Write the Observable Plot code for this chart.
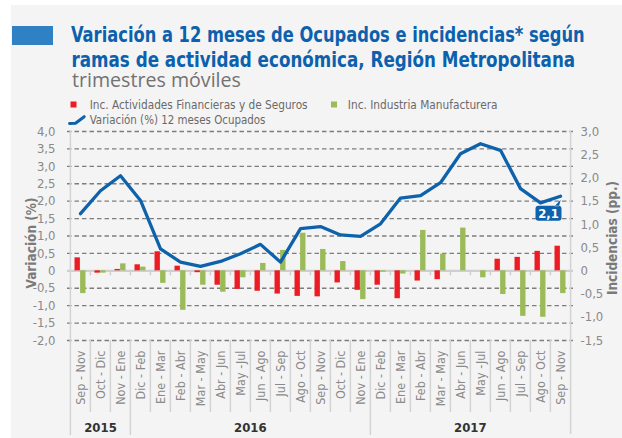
<!DOCTYPE html>
<html lang="es">
<head>
<meta charset="utf-8">
<script src="https://cdn.jsdelivr.net/npm/d3@7"></script>
<script src="https://cdn.jsdelivr.net/npm/@observablehq/plot@0.6"></script>
<style>
html,body{margin:0;padding:0;background:#fff;}
#wrap{position:relative;width:622px;height:438px;overflow:hidden;background:#fff;}
#bg{position:absolute;left:11px;top:5px;right:0;bottom:0;background:#f4f4f4;}
#chart{position:absolute;left:0;top:0;}
#chart svg{overflow:visible;}
#header{position:absolute;left:0;top:0;}
</style>
</head>
<body>
<div id="wrap">
<div id="bg"></div>
<div id="chart"></div>
<svg id="header" width="622" height="130" font-family="'Liberation Sans Narrow','DejaVu Sans Condensed',sans-serif">
  <rect x="12" y="26" width="41" height="19" fill="#3080c4"/>
  <text class="fit" data-x="71" data-y="41.7" data-w="514" font-size="22" font-weight="bold" fill="#0c61ae">Variación a 12 meses de Ocupados e incidencias* según</text>
  <text class="fit" data-x="71.5" data-y="66.7" data-w="504" font-size="22" font-weight="bold" fill="#0c61ae">ramas de actividad económica, Región Metropolitana</text>
  <text class="fit" data-x="72" data-y="86.7" data-w="169" font-size="19.5" font-family="'Open Sans',sans-serif" fill="#727272">trimestres móviles</text>
  <rect x="70.5" y="101.5" width="6" height="6" fill="#ed1c24"/>
  <text class="fit" data-x="89.7" data-y="109" data-w="218" font-size="12.5" fill="#6a6a6a">Inc. Actividades Financieras y de Seguros</text>
  <rect x="331" y="101.5" width="6" height="6" fill="#9bbb59"/>
  <text class="fit" data-x="347.8" data-y="109" data-w="150" font-size="12.5" fill="#6a6a6a">Inc. Industria Manufacturera</text>
  <path d="M69.5,123.5 L75.5,123.2 L84.2,116.7" fill="none" stroke="#0e62ab" stroke-width="3" stroke-linecap="round" stroke-linejoin="round"/>
  <text class="fit" data-x="89.7" data-y="123.5" data-w="176" font-size="12.5" fill="#6a6a6a">Variación (%) 12 meses Ocupados</text>
</svg>
</div>
<script>
// ---- data ----
const periodos = ["Sep - Nov","Oct - Dic","Nov - Ene","Dic - Feb","Ene - Mar","Feb - Abr","Mar - May","Abr - Jun","May -Jul","Jun - Ago","Jul - Sep","Ago - Oct","Sep - Nov","Oct - Dic","Nov - Ene","Dic - Feb","Ene - Mar","Feb - Abr","Mar - May","Abr - Jun","May -Jul","Jun - Ago","Jul - Sep","Ago - Oct","Sep - Nov"];
const anios = ["2015","2016","2017"];
const anioInicio = [0, 3, 15];
const anioPeriodos = [3, 12, 10];
const ocupados = [1.64, 2.30, 2.73, 2.02, 0.63, 0.25, 0.13, 0.27, 0.49, 0.76, 0.25, 1.21, 1.27, 1.03, 0.99, 1.35, 2.09, 2.16, 2.53, 3.36, 3.65, 3.46, 2.36, 1.95, 2.14];
const incFinancieras = [0.28, -0.05, 0.03, 0.13, 0.41, 0.10, -0.04, -0.31, -0.40, -0.44, -0.50, -0.55, -0.56, -0.26, -0.42, -0.31, -0.60, -0.22, -0.19, 0, 0, 0.25, 0.29, 0.42, 0.53];
const incManufactura = [-0.49, -0.05, 0.15, 0.08, -0.27, -0.85, -0.31, -0.46, -0.15, 0.16, 0.44, 0.81, 0.46, 0.20, -0.62, -0.03, -0.07, 0.87, 0.36, 0.92, -0.15, -0.51, -0.98, -1.00, -0.49];
const ticksIzq = [-2, -1.5, -1, -0.5, 0, 0.5, 1, 1.5, 2, 2.5, 3, 3.5, 4];
const ticksDer = [-1.5, -1, -0.5, 0, 0.5, 1, 1.5, 2, 2.5, 3];
const tituloIzq = "Variación (%)";
const tituloDer = "Incidencias (pp.)";

// ---- header text fitting ----
document.querySelectorAll("#header text.fit").forEach(t => {
  const x = +t.dataset.x, y = +t.dataset.y, w = +t.dataset.w;
  const n = t.getComputedTextLength();
  t.setAttribute("transform", `translate(${x},${y}) scale(${w / n},1)`);
});

// ---- layout ----
const FONT = "'Liberation Sans Narrow','DejaVu Sans Condensed',sans-serif";
const W = 622, H = 438, mL = 67, mR = 49, mT = 131, mB = 98;
const escala = 0.75; // pp. per % (right axis / left axis)
const idx = d3.range(periodos.length);
const ultimo = idx.length - 1;
const bw = (W - mL - mR) / idx.length;
const fH = H - mT - mB;
const AZUL = "#0e62ab";
const fmt = d => Math.abs(d) < 1e-9 ? "0" : d3.format(".1f")(d).replace(".", ",").replace("\u2212", "-");

const cajaEtiqueta = {
  draw(ctx) {
    const w = 13, h = 7.5, r = 3;
    ctx.moveTo(-w + r, -h);
    ctx.lineTo(w - r, -h);
    ctx.arcTo(w, -h, w, -h + r, r);
    ctx.lineTo(w, h - r);
    ctx.arcTo(w, h, w - r, h, r);
    ctx.lineTo(-w + r, h);
    ctx.arcTo(-w, h, -w, h - r, r);
    ctx.lineTo(-w, -h + r);
    ctx.arcTo(-w, -h, -w + r, -h, r);
    ctx.closePath();
    ctx.moveTo(6, -h + 0.5);
    ctx.lineTo(10.5, -h + 0.5);
    ctx.lineTo(12.2, -13.5);
    ctx.closePath();
  }
};

const separadores = idx.slice(1).filter(i => !anioInicio.includes(i));
const limitesAnio = anioInicio.filter(i => i > 0);
const aniosPar = anios.filter((a, k) => anioPeriodos[k] % 2 === 0);
const aniosImpar = anios.filter((a, k) => anioPeriodos[k] % 2 === 1);
const centroAnio = a => { const k = anios.indexOf(a); return anioInicio[k] + Math.floor(anioPeriodos[k] / 2); };

const chart = Plot.plot({
  width: W, height: H,
  marginLeft: mL, marginRight: mR, marginTop: mT, marginBottom: mB,
  style: {background: "transparent", fontFamily: FONT, overflow: "visible"},
  x: {type: "band", domain: idx, padding: 0},
  y: {domain: [-2, 4]},
  marks: [
    Plot.ruleY(ticksIzq.filter(d => d !== 0), {stroke: "#7d7d7d", strokeWidth: 1.3, strokeDasharray: "4.5,3"}),
    Plot.ruleY([0], {stroke: "#cfcfcf", strokeWidth: 2.2}),
    Plot.ruleX(idx.slice(1), {x: d => d, dx: -bw / 2, y1: 0, y2: 0, insetBottom: -5, stroke: "#cfcfcf", strokeWidth: 1.5}),
    Plot.ruleX(separadores, {x: d => d, dx: -bw / 2, insetTop: fH, insetBottom: -72, stroke: "#d3d3d3", strokeWidth: 1.5}),
    Plot.ruleX(limitesAnio, {x: d => d, dx: -bw / 2, insetTop: fH, insetBottom: -95, stroke: "#d3d3d3", strokeWidth: 1.5}),
    Plot.ruleX([0], {x: d => d, dx: -bw / 2, insetBottom: -95, stroke: "#d3d3d3", strokeWidth: 1.5}),
    Plot.ruleX([ultimo], {x: d => d, dx: bw / 2, insetBottom: -94, stroke: "#d3d3d3", strokeWidth: 1.5}),
    Plot.barY(idx, {x: d => d, y: i => incFinancieras[i] / escala, fill: "#ed1c24", insetLeft: 4.5, insetRight: bw / 2}),
    Plot.barY(idx, {x: d => d, y: i => incManufactura[i] / escala, fill: "#9bbb59", insetLeft: bw / 2, insetRight: 4.5}),
    Plot.line(idx, {x: d => d, y: i => ocupados[i], stroke: AZUL, strokeWidth: 3.3}),
    Plot.dot([ultimo], {x: d => d, y: i => ocupados[i], symbol: cajaEtiqueta, fill: AZUL, stroke: "none", dx: -12, dy: 17}),
    Plot.text([ultimo], {x: d => d, y: i => ocupados[i], text: i => fmt(ocupados[i]), dx: -12, dy: 17.5, fill: "white", fontWeight: "bold", fontSize: 13}),
    Plot.axisY(ticksIzq, {anchor: "left", tickSize: 0, tickPadding: 12, tickFormat: fmt, color: "#8a8a8a", fontSize: 13, label: null}),
    Plot.axisY(ticksDer.map(v => v / escala), {anchor: "right", tickSize: 0, tickPadding: 7, tickFormat: d => fmt(d * escala), color: "#8a8a8a", fontSize: 13, label: null}),
    Plot.axisX(idx, {anchor: "bottom", tickSize: 0, tickPadding: 10, tickRotate: -90, tickFormat: i => periodos[i], color: "#8a8a8a", fontSize: 12.5, label: null}),
    Plot.text([tituloIzq], {frameAnchor: "left", textAnchor: "middle", dx: -36, dy: 7, rotate: -90, fontWeight: "bold", fill: "#7a7a7a", fontSize: 13.5}),
    Plot.text([tituloDer], {frameAnchor: "right", textAnchor: "middle", dx: 39, dy: 2, rotate: -90, fontWeight: "bold", fill: "#7a7a7a", fontSize: 13.5}),
    Plot.text(aniosImpar, {x: centroAnio, frameAnchor: "bottom", lineAnchor: "middle", dy: 87.5, fontWeight: "bold", fill: "#333", fontSize: 13}),
    Plot.text(aniosPar, {x: centroAnio, dx: -bw / 2, frameAnchor: "bottom", lineAnchor: "middle", dy: 87.5, fontWeight: "bold", fill: "#333", fontSize: 13})
  ]
});
document.getElementById("chart").appendChild(chart);
</script>
</body>
</html>
